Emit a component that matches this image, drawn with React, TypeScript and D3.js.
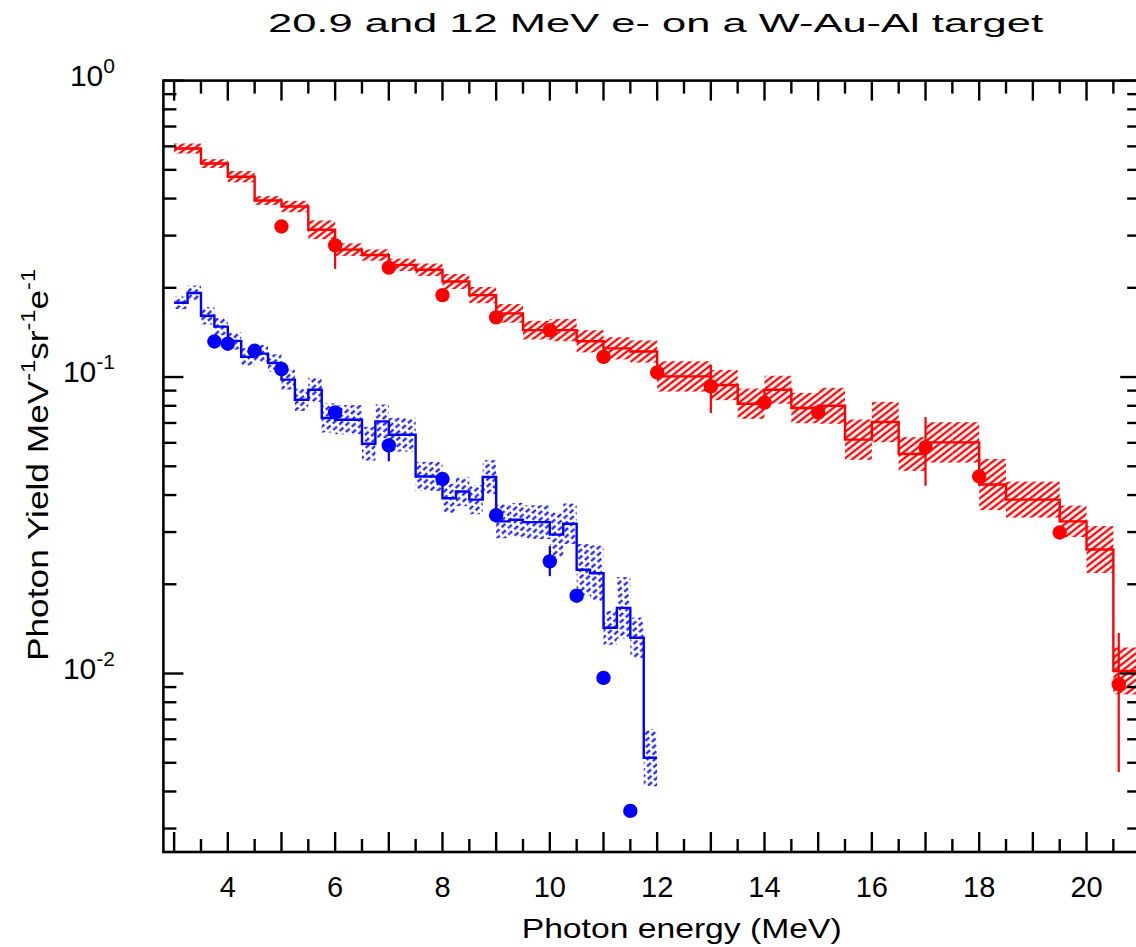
import React from "react";
import * as d3 from "d3";

// ---------- data ----------
const redEdges = [3, 3.5, 4, 4.5, 5, 5.5, 6, 6.5, 7, 7.5, 8, 8.5, 9, 9.5, 10, 10.5, 11, 11.5, 12, 12.5, 13, 13.5, 14, 14.5, 15, 15.5, 16, 16.5, 17, 17.5, 18, 18.5, 19, 19.5, 20, 20.5, 21];
const redValues = [0.59, 0.525, 0.474, 0.394, 0.376, 0.314, 0.269, 0.258, 0.239, 0.23, 0.21, 0.189, 0.164, 0.144, 0.144, 0.132, 0.125, 0.122, 0.1005, 0.1005, 0.094, 0.0813, 0.0906, 0.0786, 0.08, 0.0615, 0.0705, 0.055, 0.0602, 0.0602, 0.0434, 0.0386, 0.0386, 0.0326, 0.0262, 0.0102];
const redErr = [0.04, 0.035, 0.045, 0.035, 0.045, 0.075, 0.05, 0.045, 0.05, 0.05, 0.06, 0.065, 0.075, 0.075, 0.09, 0.09, 0.09, 0.09, 0.125, 0.125, 0.125, 0.125, 0.115, 0.125, 0.15, 0.17, 0.17, 0.14, 0.17, 0.17, 0.22, 0.15, 0.15, 0.13, 0.2, 0.2];

const blueEdges = [3, 3.25, 3.5, 3.75, 4, 4.25, 4.5, 4.75, 5, 5.25, 5.5, 5.75, 6, 6.25, 6.5, 6.75, 7, 7.25, 7.5, 7.75, 8, 8.25, 8.5, 8.75, 9, 9.25, 9.5, 9.75, 10, 10.25, 10.5, 10.75, 11, 11.25, 11.5, 11.75, 12];
const blueValues = [0.178, 0.192, 0.161, 0.148, 0.1325, 0.117, 0.12, 0.1115, 0.098, 0.0838, 0.0906, 0.0728, 0.0718, 0.0718, 0.0596, 0.0709, 0.0639, 0.0639, 0.0462, 0.0462, 0.039, 0.0411, 0.0386, 0.046, 0.0326, 0.033, 0.0324, 0.0324, 0.0294, 0.032, 0.0224, 0.0218, 0.01426, 0.01665, 0.0132, 0.0052];
const blueErr = [0.05, 0.06, 0.07, 0.07, 0.07, 0.07, 0.07, 0.07, 0.08, 0.09, 0.1, 0.12, 0.12, 0.12, 0.14, 0.14, 0.14, 0.14, 0.12, 0.12, 0.12, 0.12, 0.12, 0.14, 0.14, 0.14, 0.14, 0.14, 0.19, 0.17, 0.22, 0.24, 0.14, 0.27, 0.17, 0.25];

const redPtE = [5, 6, 7, 8, 9, 10, 11, 12, 13, 14, 15, 17, 18, 19.5, 20.6];
const redPtV = [0.322, 0.278, 0.234, 0.189, 0.159, 0.144, 0.117, 0.1036, 0.093, 0.082, 0.076, 0.058, 0.0462, 0.0299, 0.0092];
const redPtLo = [0.31, 0.2317, 0.227, 0.183, 0.154, 0.139, 0.113, 0.1, 0.0756, 0.079, 0.073, 0.043, 0.0445, 0.029, 0.00465];
const redPtHi = [0.332, 0.298, 0.241, 0.195, 0.164, 0.149, 0.121, 0.107, 0.11, 0.085, 0.079, 0.0733, 0.048, 0.031, 0.0137];

const bluePtE = [3.75, 4, 4.5, 5, 6, 7, 8, 9, 10, 10.5, 11, 11.5];
const bluePtV = [0.1318, 0.1295, 0.1227, 0.1064, 0.076, 0.0588, 0.0453, 0.0342, 0.0239, 0.0183, 0.00967, 0.00344];
const bluePtLo = [0.128, 0.126, 0.119, 0.103, 0.0735, 0.052, 0.044, 0.0332, 0.0213, 0.0178, 0.0094, 0.00334];
const bluePtHi = [0.136, 0.133, 0.126, 0.11, 0.0785, 0.062, 0.0466, 0.0352, 0.0269, 0.0188, 0.0099, 0.00354];

const xTickLabels = [4, 6, 8, 10, 12, 14, 16, 18, 20];
const yTickExponents = [0, -1, -2];

const titleText = "20.9 and 12 MeV e- on a W-Au-Al target";
const xLabelText = "Photon energy (MeV)";

// ---------- layout ----------
const W = 1136;
const H = 947;
const L = 163.4;
const R = 1140.2;
const T = 80.6;
const B = 852;
const RED = "#ff0000";
const BLUE = "#0000ff";
const FONT = "'Liberation Sans', Arial, sans-serif";

export default function App() {
  const x = d3.scaleLinear().domain([2.8, 21]).range([L, R]);
  const y = d3.scaleLog().domain([0.0025, 1]).range([B, T]);

  const stepPath = (edges: number[], vals: number[]) => {
    let p = `M${x(edges[0])},${y(vals[0])}`;
    for (let i = 0; i < vals.length; i++) {
      p += `H${x(edges[i + 1])}`;
      if (i + 1 < vals.length) p += `V${y(vals[i + 1])}`;
    }
    return p;
  };

  const bands = (edges: number[], vals: number[], errs: number[], fill: string, key: string) =>
    vals.map((v, i) => {
      const hi = v * (1 + errs[i]);
      const lo = v / (1 + errs[i]);
      return (
        <rect
          key={key + i}
          x={x(edges[i])}
          width={x(edges[i + 1]) - x(edges[i])}
          y={y(hi)}
          height={y(lo) - y(hi)}
          fill={fill}
        />
      );
    });

  const points = (E: number[], V: number[], lo: number[], hi: number[], color: string, key: string) =>
    E.map((e, i) => (
      <g key={key + i}>
        <line x1={x(e)} x2={x(e)} y1={y(hi[i])} y2={y(lo[i])} stroke={color} strokeWidth={2.2} />
        <circle cx={x(e)} cy={y(V[i])} r={7.2} fill={color} />
      </g>
    ));

  const xTicks: number[] = [];
  for (let v = 3; v <= 20.5; v += 0.5) xTicks.push(v);
  const yTicks: { v: number; major: boolean }[] = [];
  [0.001, 0.01, 0.1].forEach((d) => {
    for (let k = 1; k <= 9; k++) {
      const v = d * k;
      if (v >= 0.0025 && v <= 1) yTicks.push({ v, major: k === 1 });
    }
  });
  yTicks.push({ v: 1, major: true });

  const tickW = 2.4;

  return (
    <svg width={W} height={H} style={{ position: "absolute", left: 0, top: 0, background: "#fff" }}>
      <defs>
        <clipPath id="plotClip">
          <rect x={L} y={T} width={R - L} height={B - T} />
        </clipPath>
        <pattern id="hatchRed" patternUnits="userSpaceOnUse" width={10} height={5.2} patternTransform="rotate(-38)">
          <line x1={0} y1={2.6} x2={10} y2={2.6} stroke={RED} strokeWidth={2.3} />
        </pattern>
        <pattern id="hatchBlue" patternUnits="userSpaceOnUse" width={16} height={10} patternTransform="rotate(-42)">
          <line x1={0} y1={2.5} x2={16} y2={2.5} stroke={BLUE} strokeWidth={2} strokeDasharray="5 3" />
          <line x1={0} y1={7.5} x2={16} y2={7.5} stroke={BLUE} strokeWidth={2} strokeDasharray="5 3" strokeDashoffset={4} />
        </pattern>
      </defs>

      <rect x={0} y={0} width={W} height={H} fill="#fff" />

      <text x={268} y={31.7} fontFamily={FONT} fontSize={26.5} textLength={775} lengthAdjust="spacingAndGlyphs" fill="#000">
        {titleText}
      </text>

      <g clipPath="url(#plotClip)">
        {bands(redEdges, redValues, redErr, "url(#hatchRed)", "rb")}
        {bands(blueEdges, blueValues, blueErr, "url(#hatchBlue)", "bb")}
        <path d={stepPath(redEdges, redValues)} fill="none" stroke={RED} strokeWidth={2.4} />
        <path d={stepPath(blueEdges, blueValues)} fill="none" stroke={BLUE} strokeWidth={2.4} />
        {points(redPtE, redPtV, redPtLo, redPtHi, RED, "rp")}
        {points(bluePtE, bluePtV, bluePtLo, bluePtHi, BLUE, "bp")}
      </g>

      <rect x={L} y={T} width={R - L} height={B - T} fill="none" stroke="#000" strokeWidth={2.6} />

      {xTicks.map((v, i) => {
        const len = Number.isInteger(v) ? 20 : 13;
        return (
          <g key={"xt" + i}>
            <line x1={x(v)} x2={x(v)} y1={B} y2={B - len} stroke="#000" strokeWidth={tickW} />
            <line x1={x(v)} x2={x(v)} y1={T} y2={T + len} stroke="#000" strokeWidth={tickW} />
          </g>
        );
      })}
      {yTicks.map((t, i) => {
        const len = t.major ? 20 : 13;
        return (
          <g key={"yt" + i}>
            <line x1={L} x2={L + len} y1={y(t.v)} y2={y(t.v)} stroke="#000" strokeWidth={tickW} />
            <line x1={R} x2={R - len} y1={y(t.v)} y2={y(t.v)} stroke="#000" strokeWidth={tickW} />
          </g>
        );
      })}

      {xTickLabels.map((v) => (
        <text key={"xl" + v} x={x(v)} y={897} textAnchor="middle" fontFamily={FONT} fontSize={29} fill="#000">
          {v}
        </text>
      ))}

      {yTickExponents.map((e) => (
        <text key={"yl" + e} x={115} y={y(Math.pow(10, e)) + 5} textAnchor="end" fontFamily={FONT} fontSize={30} fill="#000">
          <tspan>10</tspan>
          <tspan dy={-13} fontSize={21}>{e}</tspan>
        </text>
      ))}

      <text x={681.7} y={938} textAnchor="middle" fontFamily={FONT} fontSize={28} textLength={320} lengthAdjust="spacingAndGlyphs" fill="#000">
        {xLabelText}
      </text>

      <text
        transform={`translate(48,465) rotate(-90)`}
        textAnchor="middle"
        fontFamily={FONT}
        fontSize={30}
        textLength={392}
        lengthAdjust="spacingAndGlyphs"
        fill="#000"
      >
        <tspan>Photon Yield MeV</tspan>
        <tspan dy={-13} fontSize={20}>-1</tspan>
        <tspan dy={13}>sr</tspan>
        <tspan dy={-13} fontSize={20}>-1</tspan>
        <tspan dy={13}>e</tspan>
        <tspan dy={-13} fontSize={20}>-1</tspan>
      </text>
    </svg>
  );
}
